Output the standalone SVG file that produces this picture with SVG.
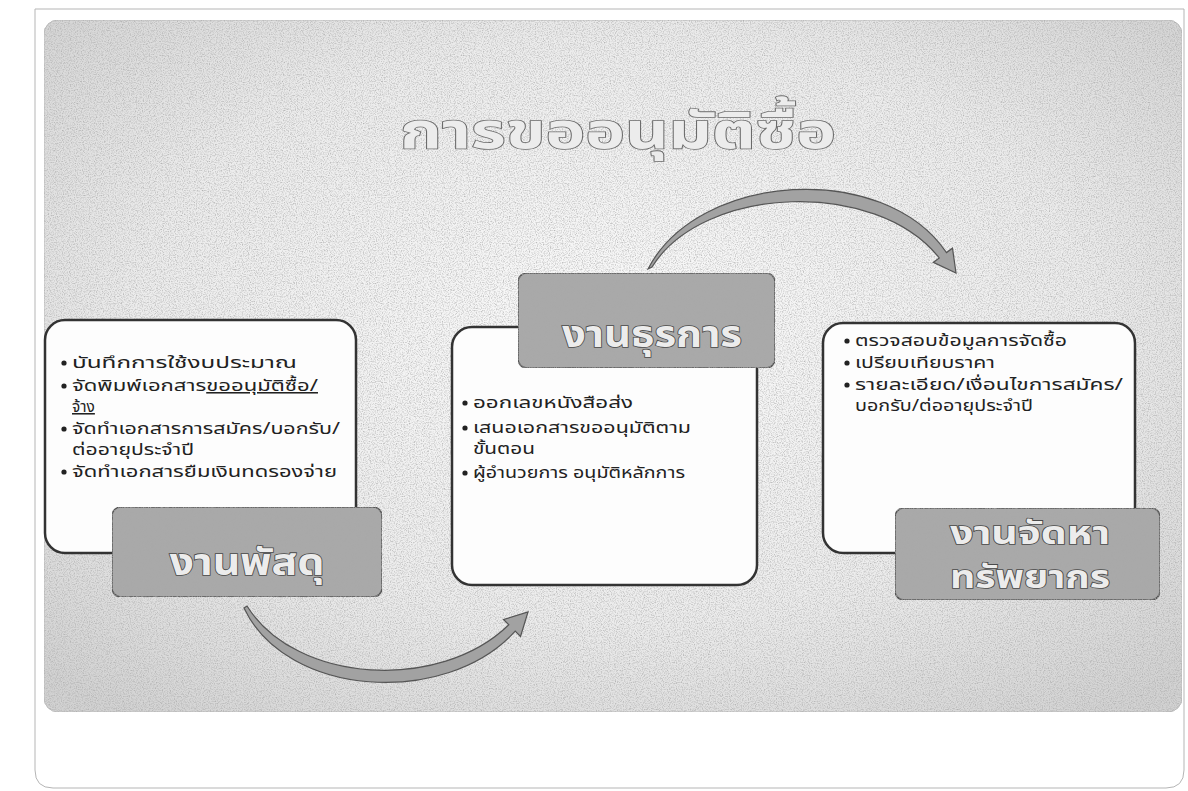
<svg xmlns="http://www.w3.org/2000/svg" width="1188" height="791" viewBox="0 0 1188 791">
<style>
.txt{font-family:'Noto Sans Thai','Noto Sans','DejaVu Sans',sans-serif;font-size:15.5px;fill:#222}
.lbl{font-family:'Noto Sans Thai','Noto Sans','DejaVu Sans',sans-serif;font-weight:bold;font-size:38px;fill:#ececec;stroke:#4a4a4a;stroke-width:1.6;paint-order:stroke;text-anchor:middle}
.lbl2{font-size:32px}
.ttl{font-family:'Noto Sans Thai','Noto Sans','DejaVu Sans',sans-serif;font-weight:bold;font-size:50px;fill:#ececec;stroke:#6a6a6a;stroke-width:1.6;paint-order:stroke;text-anchor:middle}
.box{fill:#fdfdfd;stroke:#333;stroke-width:2.5}
.tag{fill:#a9a9a9;stroke:#555;stroke-width:1.5}
.arc{fill:#a2a2a2;stroke:#555;stroke-width:1.2}
.bul{fill:#222}
</style>
<defs>
<radialGradient id="bg" cx="0.5" cy="0.45" r="0.7">
<stop offset="0" stop-color="#fafafa"/>
<stop offset="0.6" stop-color="#ececec"/>
<stop offset="1" stop-color="#d2d2d2"/>
</radialGradient>
<filter id="noise" x="0" y="0" width="100%" height="100%">
<feTurbulence type="fractalNoise" baseFrequency="0.85" numOctaves="2" seed="3" result="n"/>
<feColorMatrix in="n" type="matrix" values="0 0 0 0 0.4  0 0 0 0 0.4  0 0 0 0 0.4  0 0 0 -1.8 1.05" result="g"/>
<feComposite in="g" in2="SourceGraphic" operator="in" result="gi"/>
<feMerge><feMergeNode in="SourceGraphic"/><feMergeNode in="gi"/></feMerge>
</filter>
</defs>

<g id="page">
<path d="M35,9 H1184 V770 Q1184,788 1166,788 H53 Q35,788 35,770 Z" fill="#ffffff" stroke="#b5b5b5" stroke-width="1"/>
<rect x="44" y="20" width="1138" height="692" rx="14" fill="url(#bg)" filter="url(#noise)" stroke="#bdbdbd" stroke-width="1"/>
</g>

<g id="title">
<text class="ttl" x="618" y="148" textLength="436" lengthAdjust="spacingAndGlyphs">การขออนุมัติซื้อ</text>
</g>

<g id="connectors">
<path class="arc" d="M244,608 C286,697 445,708 515.2,631.2 L520.5,636.5 L528,612 L503.5,619.5 L508.8,624.8 C440,692 296,684 247,606 Z"/>
<path class="arc" d="M648,269 C698,172 884,160 946.5,252.6 L952.5,248.2 L956,273 L933.3,262.4 L939.3,258 C876,178 703,185 652,267 Z"/>
</g>

<g id="node-supplies">
<rect class="box" x="45" y="320" width="311" height="233" rx="20"/>
<circle class="bul" cx="64" cy="363" r="2.6"/>
<text class="txt" x="72" y="368" textLength="225" lengthAdjust="spacingAndGlyphs">บันทึกการใช้งบประมาณ</text>
<circle class="bul" cx="64" cy="386" r="2.6"/>
<text class="txt"><tspan x="72" y="391" textLength="246" lengthAdjust="spacingAndGlyphs">จัดพิมพ์เอกสาร<tspan text-decoration="underline">ขออนุมัติซื้อ/</tspan></tspan><tspan x="72" y="412" text-decoration="underline">จ้าง</tspan></text>
<circle class="bul" cx="64" cy="429" r="2.6"/>
<text class="txt"><tspan x="72" y="434" textLength="268" lengthAdjust="spacingAndGlyphs">จัดทำเอกสารการสมัคร/บอกรับ/</tspan><tspan x="72" y="455" textLength="122" lengthAdjust="spacingAndGlyphs">ต่ออายุประจำปี</tspan></text>
<circle class="bul" cx="64" cy="472" r="2.6"/>
<text class="txt" x="72" y="477" textLength="265" lengthAdjust="spacingAndGlyphs">จัดทำเอกสารยืมเงินทดรองจ่าย</text>
<rect class="tag" x="112" y="507" width="270" height="90" rx="9" filter="url(#noise)"/>
<text class="lbl" x="247" y="575" textLength="155" lengthAdjust="spacingAndGlyphs">งานพัสดุ</text>
</g>

<g id="node-admin">
<rect class="box" x="452" y="327" width="305" height="258" rx="20"/>
<circle class="bul" cx="465" cy="403" r="2.6"/>
<text class="txt" x="473" y="408" textLength="160" lengthAdjust="spacingAndGlyphs">ออกเลขหนังสือส่ง</text>
<circle class="bul" cx="465" cy="428" r="2.6"/>
<text class="txt"><tspan x="473" y="433" textLength="218" lengthAdjust="spacingAndGlyphs">เสนอเอกสารขออนุมัติตาม</tspan><tspan x="473" y="454" textLength="62" lengthAdjust="spacingAndGlyphs">ขั้นตอน</tspan></text>
<circle class="bul" cx="465" cy="473" r="2.6"/>
<text class="txt" x="473" y="478" textLength="212" lengthAdjust="spacingAndGlyphs">ผู้อำนวยการ อนุมัติหลักการ</text>
<rect class="tag" x="518" y="273" width="257" height="95" rx="9" filter="url(#noise)"/>
<text class="lbl" x="652" y="347" textLength="180" lengthAdjust="spacingAndGlyphs">งานธุรการ</text>
</g>

<g id="node-procurement">
<rect class="box" x="823" y="323" width="312" height="230" rx="20"/>
<circle class="bul" cx="847" cy="341" r="2.6"/>
<text class="txt" x="855" y="346" textLength="212" lengthAdjust="spacingAndGlyphs">ตรวจสอบข้อมูลการจัดซื้อ</text>
<circle class="bul" cx="847" cy="363" r="2.6"/>
<text class="txt" x="855" y="368" textLength="140" lengthAdjust="spacingAndGlyphs">เปรียบเทียบราคา</text>
<circle class="bul" cx="847" cy="385" r="2.6"/>
<text class="txt"><tspan x="855" y="390" textLength="268" lengthAdjust="spacingAndGlyphs">รายละเอียด/เงื่อนไขการสมัคร/</tspan><tspan x="855" y="411" textLength="178" lengthAdjust="spacingAndGlyphs">บอกรับ/ต่ออายุประจำปี</tspan></text>
<rect class="tag" x="895" y="508" width="265" height="92" rx="9" filter="url(#noise)"/>
<text class="lbl lbl2"><tspan x="1030" y="544" textLength="160" lengthAdjust="spacingAndGlyphs">งานจัดหา</tspan><tspan x="1030" y="588" textLength="160" lengthAdjust="spacingAndGlyphs">ทรัพยากร</tspan></text>
</g>
</svg>
